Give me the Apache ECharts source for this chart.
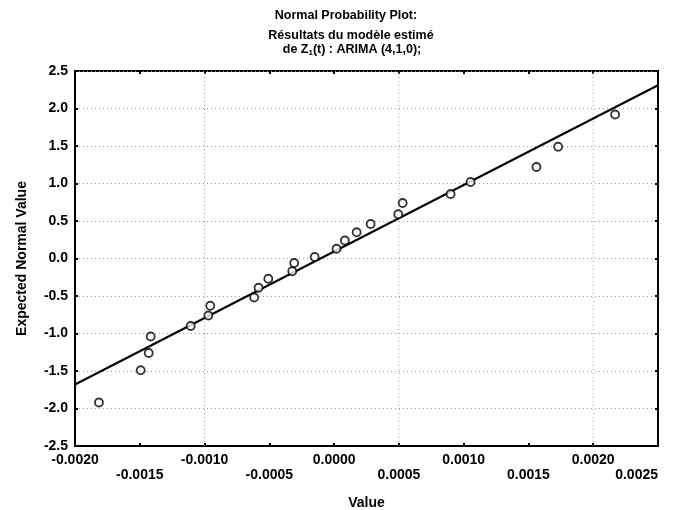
<!DOCTYPE html>
<html>
<head>
<meta charset="utf-8">
<script src="https://cdn.jsdelivr.net/npm/echarts@6/dist/echarts.min.js"></script>
<style>
html,body{margin:0;padding:0;background:#fff;}
#c{width:682px;height:510px;}
</style>
</head>
<body>
<div id="c"></div>
<script>
// Observed values (x = residual value, y = expected normal value)
var xVals = [-0.001815, -0.001493, -0.001431, -0.001416, -0.001107, -0.000971, -0.000956, -0.000617,
             -0.000583, -0.000508, -0.000323, -0.000308, -0.000150, 0.000019, 0.000083, 0.000174,
             0.000282, 0.000495, 0.000529, 0.000899, 0.001053, 0.001562, 0.001729, 0.002169];
var yVals = [-1.92, -1.49, -1.26, -1.04, -0.90, -0.76, -0.63, -0.52,
             -0.39, -0.27, -0.17, -0.06, 0.02, 0.13, 0.24, 0.35,
             0.46, 0.59, 0.74, 0.86, 1.02, 1.22, 1.49, 1.92];
// Fitted reference line end points
var lineX = [-0.0020, 0.0025];
var lineY = [-1.68, 2.31];
// Axis settings
var xMin = -0.0020, xMax = 0.0025, xStep = 0.0005;
var yMin = -2.5, yMax = 2.5, yStep = 0.5;
// Vertical dotted grid lines visible in the reference
var vGridX = [-0.0010, 0.0005, 0.0020];
// Texts
var titleLines = ['Normal Probability Plot:', 'R\u00e9sultats du mod\u00e8le estim\u00e9', 'de Z{sub|1}(t) : ARIMA (4,1,0);'];
var xName = 'Value';
var yName = 'Expected Normal Value';

var scatterData = xVals.map(function (x, i) { return [x, yVals[i]]; });
var lineData = lineX.map(function (x, i) { return [x, lineY[i]]; });

var FONT = 'Liberation Sans, Arial, sans-serif';
var chart = echarts.init(document.getElementById('c'), null, {renderer: 'canvas'});

var titleStyle = {fontFamily: FONT, fontSize: 12.5, fontWeight: 'bold', color: '#000',
  rich: {sub: {fontFamily: FONT, fontSize: 8, fontWeight: 'bold', color: '#000', padding: [7, 0, 0, 0]}}};
var labelFont = {fontFamily: FONT, fontSize: 14, fontWeight: 'bold', color: '#000'};
var gridLineStyle = {color: '#999', type: [1, 3], width: 1};
var tick = {inside: true, length: 3, lineStyle: {color: '#000', width: 2}};

var vGridSeries = vGridX.map(function (x) {
  return {
    type: 'line', data: [[x, yMin], [x, yMax]], symbol: 'none', silent: true, z: 1,
    lineStyle: gridLineStyle
  };
});

chart.setOption({
  animation: false,
  backgroundColor: '#fff',
  title: [
    {text: titleLines[0], left: 341, top: 4, textAlign: 'center', textStyle: titleStyle},
    {text: titleLines[1], left: 346, top: 24, textAlign: 'center', textStyle: titleStyle},
    {text: titleLines[2], left: 347, top: 37, textAlign: 'center', textStyle: titleStyle}
  ],
  grid: {left: 75, right: 24, top: 71, bottom: 64, containLabel: false, outerBoundsMode: 'none',
    show: true, borderColor: '#000', borderWidth: 2, backgroundColor: 'transparent'},
  xAxis: [{
    type: 'value', min: xMin, max: xMax, interval: xStep,
    name: xName, nameLocation: 'middle', nameGap: 50,
    nameTextStyle: labelFont,
    axisLine: {onZero: false, lineStyle: {color: '#000', width: 2}},
    axisTick: tick,
    splitLine: {show: false},
    axisLabel: Object.assign({}, labelFont, {
      margin: 7, lineHeight: 15, alignMaxLabel: 'right',
      formatter: function (v, i) {
        var s = v.toFixed(4);
        if (Math.abs(v) < 1e-12) s = '0.0000';
        return (i % 2 === 1) ? '\n' + s : s;
      }
    })
  }, {
    type: 'value', position: 'top', min: xMin, max: xMax, interval: xStep,
    axisLine: {show: false, onZero: false}, axisLabel: {show: false}, splitLine: {show: false},
    axisTick: tick
  }],
  yAxis: [{
    type: 'value', min: yMin, max: yMax, interval: yStep,
    name: yName, nameLocation: 'middle', nameGap: 46, nameRotate: 90,
    nameTextStyle: labelFont,
    axisLine: {onZero: false, lineStyle: {color: '#000', width: 2}},
    axisTick: tick,
    splitLine: {show: true, lineStyle: gridLineStyle},
    axisLabel: Object.assign({}, labelFont, {margin: 7,
      formatter: function (v) { return v.toFixed(1); }})
  }, {
    type: 'value', position: 'right', min: yMin, max: yMax, interval: yStep,
    axisLine: {show: false, onZero: false}, axisLabel: {show: false}, splitLine: {show: false},
    axisTick: tick
  }],
  series: vGridSeries.concat([{
    type: 'line', data: lineData, symbol: 'none', z: 4,
    lineStyle: {color: '#000', width: 2}
  }, {
    type: 'scatter', data: scatterData, symbol: 'circle', symbolSize: 8, z: 5,
    itemStyle: {color: '#fff', borderColor: '#000', borderWidth: 1.8}
  }])
});
</script>
</body>
</html>
